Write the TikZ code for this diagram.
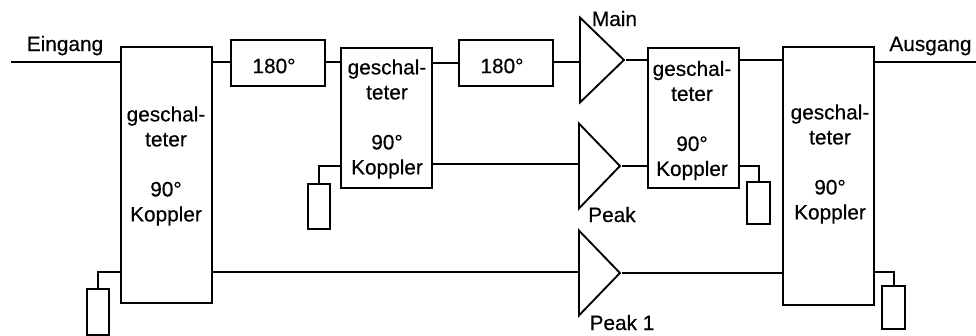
\documentclass[tikz,border=0pt]{standalone}
\usepackage{fontspec}
\setmainfont[FakeBold=0.4]{Liberation Sans}
\usetikzlibrary{shapes.geometric}
\def\pxs{0.75pt}
\tikzset{
  wire/.style={line width=1.5pt},
  blockbox/.style 2 args={draw, line width=1.5pt, inner sep=0pt,
    minimum width=#1*\pxs, minimum height=#2*\pxs},
  ampl/.style={draw, line width=1.4pt, isosceles triangle, isosceles triangle stretches,
    shape border rotate=0, anchor=lower side, inner sep=0pt,
    minimum width=85*\pxs, minimum height=#1*\pxs},
  blocktext/.style={align=center, inner sep=0pt},
  tag/.style={anchor=base, inner sep=0pt}
}
\begin{document}
\begin{tikzpicture}[x=0.75pt, y=-0.75pt, font=\fontsize{15.6}{18.75}\selectfont]
  \useasboundingbox (0,0) rectangle (976,336);
  % rails, the y of each connector
  \coordinate (railin)   at (11,62);
  \coordinate (railout)  at (976,62);
  \coordinate (railph)   at (0,62);
  \coordinate (railmain) at (0,60);
  \coordinate (railmid)  at (0,164);
  \coordinate (railpeak) at (0,166);
  \coordinate (raillow)  at (0,272);
  % coupler boxes
  \node[blockbox={91}{256}] (koppA) at (166.5,175) {};
  \node[blockbox={91}{140}] (koppB) at (386.5,118) {};
  \node[blockbox={91}{140}] (koppC) at (693.5,118) {};
  \node[blockbox={91}{258}] (koppD) at (828.5,176) {};
  \node[blocktext] (textA) at (166,166) {geschal-\\teter\\[18.75pt]90°\\Koppler};
  \node[blocktext] (textB) at (387,119) {geschal-\\teter\\[18.75pt]90°\\Koppler};
  \node[blocktext] (textC) at (692,120.5) {geschal-\\teter\\[18.75pt]90°\\Koppler};
  \node[blocktext] (textD) at (830,164) {geschal-\\teter\\[18.75pt]90°\\Koppler};
  % phase shifters
  \node[blockbox={94}{46}] (phaseA) at (278,63) {};
  \node[blockbox={94}{46}] (phaseB) at (506,63) {};
  \node[blocktext] (textphA) at (274,66) {180°};
  \node[blocktext] (textphB) at (502,66) {180°};
  % amplifiers
  \node[ampl=44] (ampMain) at (579,60) {};
  \node[ampl=41] (ampPeak) at (578,166) {};
  \node[ampl=41] (ampLow)  at (578,273) {};
  % terminations
  \node[blockbox={22}{46}] (loadA) at (98,312) {};
  \node[blockbox={22}{45}] (loadB) at (319,206.5) {};
  \node[blockbox={23}{42}] (loadC) at (758.5,203) {};
  \node[blockbox={23}{43}] (loadD) at (893.5,307.5) {};
  % top path
  \draw[wire] (railin) -- (koppA.west |- railin);
  \draw[wire] (koppA.east |- railin) -- (phaseA.west |- railin);
  \draw[wire] (phaseA.east |- railin) -- (koppB.west |- railin);
  \draw[wire] (koppB.east |- phaseB.west) -- (phaseB.west);
  \draw[wire] (phaseB.east |- railph) -- (ampMain.lower side |- railph);
  \draw[wire] (ampMain.apex) -- (koppC.west |- ampMain.apex);
  \draw[wire] (koppC.east |- railmain) -- (koppD.west |- railmain);
  \draw[wire] (koppD.east |- railin) -- (railout);
  % middle path
  \draw[wire] (koppB.east |- railmid) -- (ampPeak.lower side |- railmid);
  \draw[wire] (ampPeak.apex) -- (koppC.west |- ampPeak.apex);
  % bottom path
  \draw[wire] (koppA.east |- raillow) -- (ampLow.lower side |- raillow);
  \draw[wire] (ampLow.apex) -- (koppD.west |- ampLow.apex);
  % stubs to the terminations
  \draw[wire] (koppA.west |- raillow) -| (loadA.north);
  \draw[wire] (koppB.west |- railpeak) -| (loadB.north);
  \draw[wire] (koppC.east |- railpeak) -| (loadC.north);
  \draw[wire] (koppD.east |- raillow) -| (loadD.north);
  % labels
  \node[tag] (eingang) at (65,51) {Eingang};
  \node[tag] (ausgang) at (930.5,51) {Ausgang};
  \node[tag] (main)  at (614.5,26) {Main};
  \node[tag] (peak)  at (612,222) {Peak};
  \node[tag] (peakb) at (622,330) {Peak 1};
\end{tikzpicture}
\end{document}
